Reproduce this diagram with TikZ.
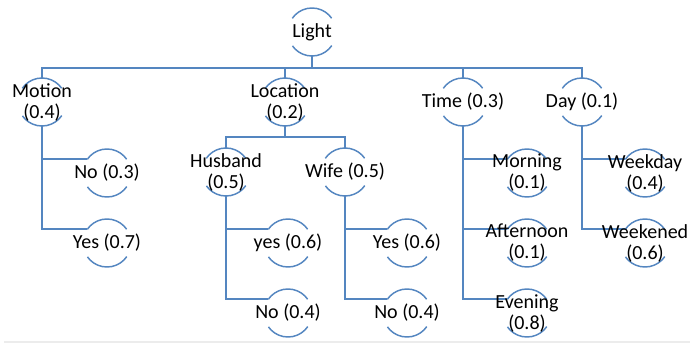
\documentclass[tikz,border=0pt]{standalone}
\usepackage{fontspec}
\setmainfont{Carlito}
\pgfdeclarelayer{background}
\pgfsetlayers{background,main}
\definecolor{treeblue}{RGB}{84,134,192}
\begin{document}
\begin{tikzpicture}[x=0.75pt,y=-0.75pt,
  pn/.style={circle,minimum size=36pt,inner sep=0pt,outer sep=0pt,draw=treeblue,line width=1.1pt,
    dash pattern=on 0pt off 11pt on 34.56pt off 22pt on 34.56pt off 11pt},
  txt/.style={font=\fontsize{15}{15.75}\selectfont,align=center,text=black,inner sep=0pt},
  edge/.style={draw=treeblue,line width=1.4pt}]
\useasboundingbox (0,0) rectangle (691,343);
\draw[gray!15,line width=1.5pt] (4,342) -- (690,342);
% level 0
\node[pn,label={[txt]center:Light}] (light) at (312,32) {};
% level 1
\node[pn,label={[txt]center:{Motion\\(0.4)}}] (motion) at (42,102) {};
\node[pn,label={[txt]center:{Location\\(0.2)}}] (loc) at (285,102) {};
\node[pn,label={[txt]center:{Time (0.3)}}] (time) at (463,102) {};
\node[pn,label={[txt]center:{Day (0.1)}}] (day) at (582,102) {};
% motion children
\node[pn,label={[txt]center:{No (0.3)}}] (mno) at (107,173) {};
\node[pn,label={[txt]center:{Yes (0.7)}}] (myes) at (107,243) {};
% location children
\node[pn,label={[txt]center:{Husband\\(0.5)}}] (hus) at (226,172) {};
\node[pn,label={[txt]center:{Wife (0.5)}}] (wife) at (345,172) {};
\node[pn,label={[txt]center:{yes (0.6)}}] (hyes) at (288,243) {};
\node[pn,label={[txt]center:{No (0.4)}}] (hno) at (288,313) {};
\node[pn,label={[txt]center:{Yes (0.6)}}] (wyes) at (407,243) {};
\node[pn,label={[txt]center:{No (0.4)}}] (wno) at (407,313) {};
% time children
\node[pn,label={[txt]center:{Morning\\(0.1)}}] (morn) at (527,173) {};
\node[pn,label={[txt]center:{Afternoon\\(0.1)}}] (aft) at (527,243) {};
\node[pn,label={[txt]center:{Evening\\(0.8)}}] (eve) at (527,313) {};
% day children
\node[pn,label={[txt]center:{Weekday\\(0.4)}}] (wkd) at (645,173) {};
\node[pn,label={[txt]center:{Weekened\\(0.6)}}] (wke) at (645,243) {};
\coordinate (bus) at (0,68);
\coordinate (locbar) at (0,137);
\begin{pgfonlayer}{background}
\draw[edge] (light.south) -- (light.south |- bus);
\draw[edge] (motion.north) |- (day.north |- bus) -- (day.north);
\draw[edge] (loc.north) -- (loc.north |- bus);
\draw[edge] (time.north) -- (time.north |- bus);
\draw[edge] (motion.south) |- (mno.145);
\draw[edge] (motion.south) |- (myes.145);
\draw[edge] (loc.south) -- (loc.south |- locbar);
\draw[edge] (hus.north) |- (wife.north |- locbar) -- (wife.north);
\draw[edge] (hus.south) |- (hyes.145);
\draw[edge] (hus.south) |- (hno.145);
\draw[edge] (wife.south) |- (wyes.145);
\draw[edge] (wife.south) |- (wno.145);
\draw[edge] (time.south) |- (morn.145);
\draw[edge] (time.south) |- (aft.145);
\draw[edge] (time.south) |- (eve.145);
\draw[edge] (day.south) |- (wkd.145);
\draw[edge] (day.south) |- (wke.145);
\end{pgfonlayer}
\end{tikzpicture}
\end{document}
